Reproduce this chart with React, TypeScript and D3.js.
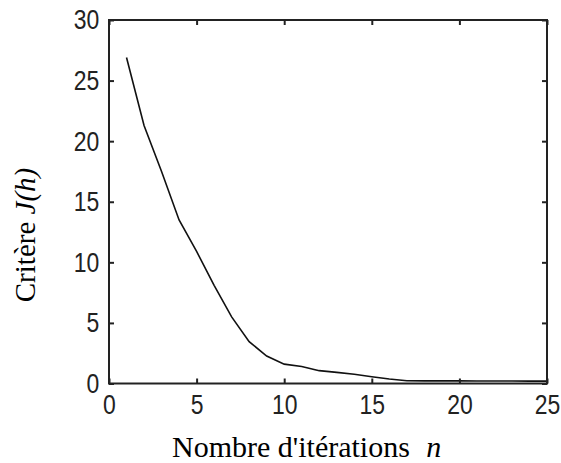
import React, { useEffect, useRef } from 'react';
import * as d3 from 'd3';

// iterations and criterion values
const iterations = [1, 2, 3, 4, 5, 6, 7, 8, 9, 10, 11, 12, 13, 14, 15, 16, 17, 18, 19, 20, 21, 22, 23, 24, 25];
const criterion = [26.9, 21.3, 17.5, 13.5, 10.9, 8.1, 5.5, 3.45, 2.27, 1.6, 1.4, 1.06, 0.92, 0.76, 0.56, 0.37, 0.23, 0.22, 0.22, 0.22, 0.21, 0.21, 0.21, 0.2, 0.2];
const xTicks = [0, 5, 10, 15, 20, 25];
const yTicks = [0, 5, 10, 15, 20, 25, 30];

const width = 561;
const height = 463;

const App: React.FC = () => {
    const svgRef = useRef<SVGSVGElement>(null);

    useEffect(() => {
        if (!svgRef.current) return;
        const svg = d3.select(svgRef.current);
        svg.selectAll('*').remove();

        const margin = { top: 20, right: 14, bottom: 79.5, left: 109 };
        const innerW = width - margin.left - margin.right;
        const innerH = height - margin.top - margin.bottom;

        const x = d3.scaleLinear().domain([0, 25]).range([0, innerW]);
        const y = d3.scaleLinear().domain([0, 30]).range([innerH, 0]);

        const g = svg.append('g')
            .attr('transform', `translate(${margin.left}, ${margin.top})`);

        const line = d3.line<number>()
            .x((d, i) => x(iterations[i]))
            .y(d => y(d));

        g.append('path')
            .datum(criterion)
            .attr('fill', 'none')
            .attr('stroke', '#111')
            .attr('stroke-width', 1.6)
            .attr('d', line);

        // matlab-ish narrow digits
        const tickFont = (sel: any) => {
            sel.style('font-family', '"Liberation Sans", Arial, sans-serif')
                .style('font-size', '28px')
                .style('color', '#222');
            sel.selectAll('text').attr('transform', 'scale(0.82, 1)');
        };

        // bottom + left carry labels, ticks point inward
        g.append('g')
            .attr('transform', `translate(0, ${innerH})`)
            .call(d3.axisBottom(x).tickValues(xTicks).tickSize(-5).tickPadding(11).tickSizeOuter(0))
            .call(tickFont)
            .select('.domain').remove();

        g.append('g')
            .call(d3.axisLeft(y).tickValues(yTicks).tickSize(-5).tickPadding(12).tickSizeOuter(0))
            .call(tickFont)
            .select('.domain').remove();

        g.append('g')
            .call(d3.axisTop(x).tickValues(xTicks).tickSize(-5).tickFormat(() => '').tickSizeOuter(0))
            .select('.domain').remove();

        g.append('g')
            .attr('transform', `translate(${innerW}, 0)`)
            .call(d3.axisRight(y).tickValues(yTicks).tickSize(-5).tickFormat(() => '').tickSizeOuter(0))
            .select('.domain').remove();

        g.selectAll('.tick line').attr('stroke', '#222').attr('stroke-width', 2);

        g.append('rect')
            .attr('width', innerW)
            .attr('height', innerH)
            .attr('fill', 'none')
            .attr('stroke', '#222')
            .attr('stroke-width', 2);

        // axis titles
        const xLabel = svg.append('text')
            .attr('x', 172)
            .attr('y', 457)
            .style('font-family', '"Liberation Serif", "Times New Roman", serif')
            .style('font-size', '30px')
            .attr('fill', '#000');
        xLabel.append('tspan').text("Nombre d'itérations ");
        xLabel.append('tspan').attr('dx', 9).style('font-style', 'italic').text('n');

        const yLabel = svg.append('text')
            .attr('transform', `translate(35, 235) rotate(-90)`)
            .attr('text-anchor', 'middle')
            .style('font-family', '"Liberation Serif", "Times New Roman", serif')
            .style('font-size', '29px')
            .attr('fill', '#000');
        yLabel.append('tspan').text('Critère ');
        yLabel.append('tspan').style('font-style', 'italic').text('J(h)');
    }, []);

    return (
        <div style={{ position: 'absolute', left: 0, top: 0, background: '#fff' }}>
            <svg ref={svgRef} width={width} height={height}></svg>
        </div>
    );
};

export default App;
